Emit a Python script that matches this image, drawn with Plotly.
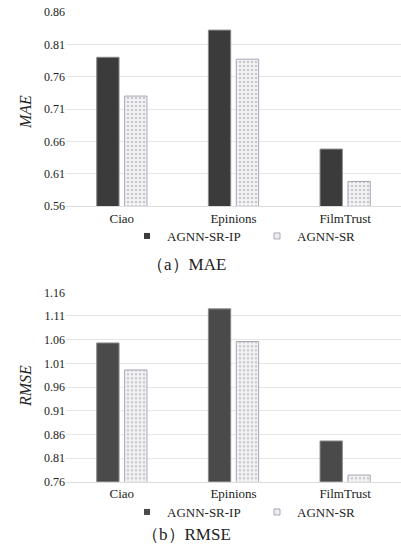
import plotly.graph_objects as go

categories = ["Ciao", "Epinions", "FilmTrust"]
mae_ip = [0.790, 0.832, 0.648]
mae_sr = [0.730, 0.787, 0.598]
rmse_ip = [1.053, 1.125, 0.846]
rmse_sr = [0.996, 1.056, 0.774]
mae_ticks = [0.56, 0.61, 0.66, 0.71, 0.76, 0.81, 0.86]
rmse_ticks = [0.76, 0.81, 0.86, 0.91, 0.96, 1.01, 1.06, 1.11, 1.16]
series_names = ["AGNN-SR-IP", "AGNN-SR"]

W, H = 401, 547
FONT = "Liberation Serif, DejaVu Serif, serif"

def py(p):
    return 1 - p / H

fig = go.Figure()

sr_pattern = dict(shape=".", fgcolor="#9a9aa4", bgcolor="#f4f4f6", size=4, solidity=0.35)

def add_pair(ip, sr, xa, ya, dark, leg):
    fig.add_trace(go.Bar(x=categories, y=ip, name=series_names[0], xaxis=xa, yaxis=ya,
                         marker=dict(color=dark, line=dict(color="#8a8a90", width=1)),
                         showlegend=False))
    fig.add_trace(go.Bar(x=categories, y=sr, name=series_names[1], xaxis=xa, yaxis=ya,
                         marker=dict(color="#f4f4f6", pattern=sr_pattern,
                                     line=dict(color="#a8a8b4", width=1)),
                         showlegend=False))
    # legend-only markers (small squares like the reference)
    fig.add_trace(go.Scatter(x=[None], y=[None], mode="markers", name=series_names[0],
                             xaxis=xa, yaxis=ya, legend=leg,
                             marker=dict(symbol="square", size=6, color=dark,
                                         line=dict(color=dark, width=0))))
    fig.add_trace(go.Scatter(x=[None], y=[None], mode="markers", name=series_names[1],
                             xaxis=xa, yaxis=ya, legend=leg,
                             marker=dict(symbol="square", size=6, color="#eeeef2",
                                         line=dict(color="#a8a8b4", width=1))))

add_pair(mae_ip, mae_sr, "x", "y", "#3b3b3b", "legend")
add_pair(rmse_ip, rmse_sr, "x2", "y2", "#4a4a4a", "legend2")

xd = [66 / W, 1.0]
axis_common = dict(showgrid=True, gridcolor="#e6e6e6", gridwidth=1, zeroline=False,
                   showline=False, ticks="", tickfont=dict(family=FONT, size=12, color="#222"))
xaxis_common = dict(domain=xd, showgrid=False, showline=True, linecolor="#dcdcdc",
                    ticks="", tickfont=dict(family=FONT, size=13, color="#222"))
leg_common = dict(orientation="h", x=(127 / W), xanchor="left", yanchor="middle",
                  font=dict(family=FONT, size=13, color="#222"), itemwidth=30,
                  entrywidth=85, entrywidthmode="pixels",
                  tracegroupgap=0, bgcolor="rgba(0,0,0,0)")

fig.update_layout(
    width=W, height=H,
    margin=dict(l=0, r=0, t=0, b=0, autoexpand=False),
    paper_bgcolor="white", plot_bgcolor="white",
    barmode="group", bargap=0.5, bargroupgap=0.2,
    font=dict(family=FONT, size=13, color="#222"),
    xaxis=dict(anchor="y", **xaxis_common),
    yaxis=dict(domain=[py(206), py(12)], anchor="x", range=[0.56, 0.86],
               tickvals=mae_ticks, ticktext=[f"{v:.2f}" for v in mae_ticks], **axis_common),
    xaxis2=dict(anchor="y2", **xaxis_common),
    yaxis2=dict(domain=[py(481.7), py(292.3)], anchor="x2", range=[0.76, 1.16],
                tickvals=rmse_ticks, ticktext=[f"{v:.2f}" for v in rmse_ticks], **axis_common),
    legend=dict(y=py(236), **leg_common),
    legend2=dict(y=py(512), **leg_common),
    showlegend=True,
)

ann_font = dict(family=FONT, size=17, color="#222")
fig.add_annotation(text="（a）MAE", x=0.465, y=py(264), xref="paper", yref="paper",
                   showarrow=False, font=ann_font, xanchor="center", yanchor="middle")
fig.add_annotation(text="（b）RMSE", x=0.465, y=py(534), xref="paper", yref="paper",
                   showarrow=False, font=ann_font, xanchor="center", yanchor="middle")
fig.add_annotation(text="<i>MAE</i>", x=25 / W, y=py(112), xref="paper", yref="paper",
                   showarrow=False, textangle=-90, font=dict(family=FONT, size=16, color="#222"),
                   xanchor="center", yanchor="middle")
fig.add_annotation(text="<i>RMSE</i>", x=25 / W, y=py(386), xref="paper", yref="paper",
                   showarrow=False, textangle=-90, font=dict(family=FONT, size=16, color="#222"),
                   xanchor="center", yanchor="middle")

fig.write_html("out.html", config={"displayModeBar": False},
               post_script="document.body.style.margin='0';document.body.style.overflow='hidden';")
